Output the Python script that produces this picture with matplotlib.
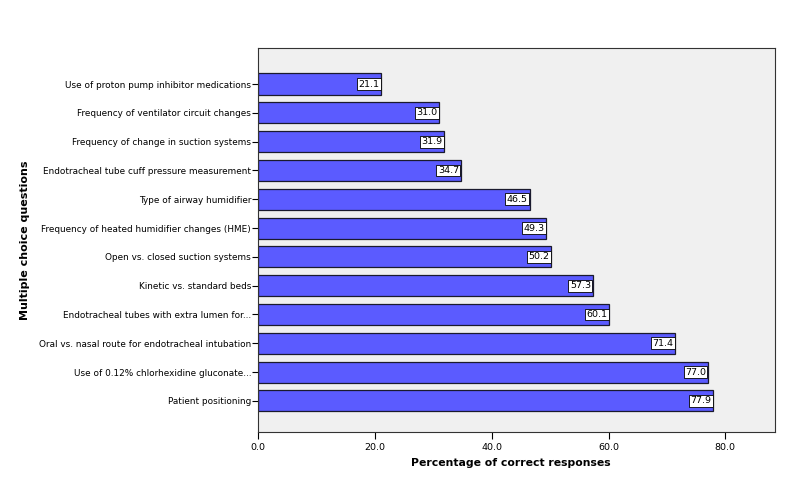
import numpy as np
import matplotlib.pyplot as plt

questions = [
    "Use of proton pump inhibitor medications",
    "Frequency of ventilator circuit changes",
    "Frequency of change in suction systems",
    "Endotracheal tube cuff pressure measurement",
    "Type of airway humidifier",
    "Frequency of heated humidifier changes (HME)",
    "Open vs. closed suction systems",
    "Kinetic vs. standard beds",
    "Endotracheal tubes with extra lumen for...",
    "Oral vs. nasal route for endotracheal intubation",
    "Use of 0.12% chlorhexidine gluconate...",
    "Patient positioning",
]
percent = [21.1, 31.0, 31.9, 34.7, 46.5, 49.3, 50.2, 57.3, 60.1, 71.4, 77.0, 77.9]

fig = plt.figure(figsize=(8.09, 5.04), dpi=100)
ax = fig.add_axes([258/809, (504-432)/504, (775-258)/809, (432-48)/504])
ax.set_facecolor('#f0f0f0')

y = np.arange(len(questions))
ax.barh(y, percent, height=0.73, color='#5b5bff', edgecolor='#1a1a2e', linewidth=0.9)

for yi, v in zip(y, percent):
    ax.text(v - 0.3, yi, f"{v:.1f}", ha='right', va='center', fontsize=6.8,
            bbox=dict(boxstyle='square,pad=0.15', fc='white', ec='black', lw=0.6))

ax.set_yticks(y)
ax.set_yticklabels(questions, fontsize=6.4)
ax.set_ylim(len(questions) - 1 + 1.08, -1.25)
ax.set_xlim(0, 88.5)
ax.set_xticks([0, 20, 40, 60, 80])
ax.set_xticklabels(["0.0", "20.0", "40.0", "60.0", "80.0"], fontsize=6.8)
ax.tick_params(axis='y', length=4, width=0.8, pad=1)
ax.tick_params(axis='x', length=5, width=0.8, pad=3)
for s in ax.spines.values():
    s.set_linewidth(0.8)
    s.set_color('#333333')

fig.text(511/809, 1 - 463/504, "Percentage of correct responses", fontsize=7.8,
         fontweight='bold', ha='center', va='center')
fig.text(25/809, 1 - 240/504, "Multiple choice questions", rotation=90, fontsize=8,
         fontweight='bold', ha='center', va='center')

fig.savefig('out.png', dpi=100)
